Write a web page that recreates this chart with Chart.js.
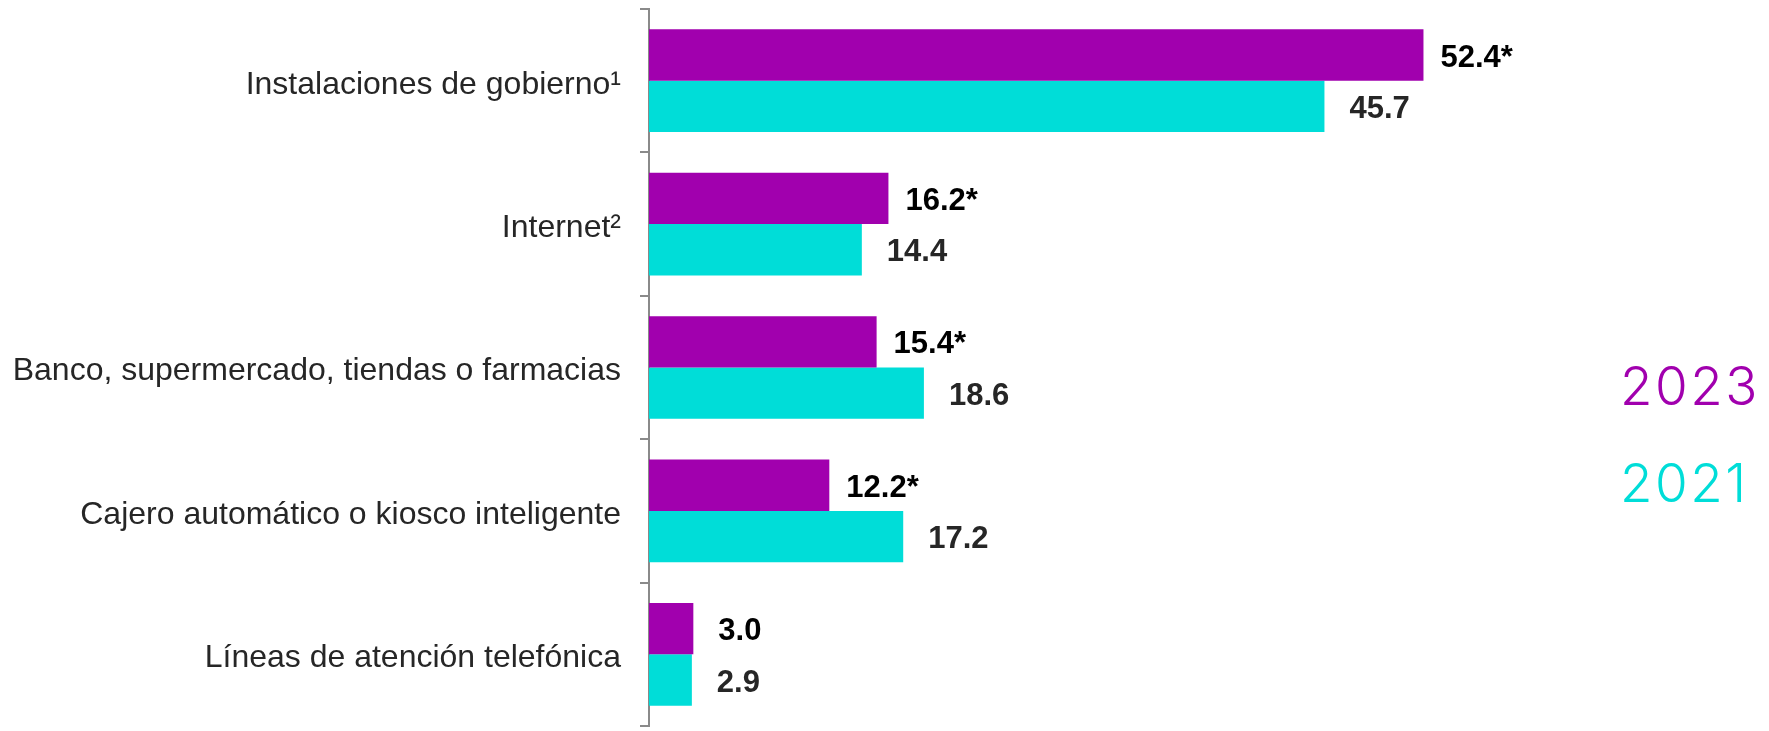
<!DOCTYPE html>
<html><head><meta charset="utf-8">
<script src="https://cdn.jsdelivr.net/npm/chart.js@4.4.1/dist/chart.umd.min.js"></script>
<style>html,body{margin:0;padding:0;background:#fff;overflow:hidden}#wrap{width:1769px;height:731px;position:relative}</style>
</head><body><div id="wrap"><canvas id="c" width="1769" height="731"></canvas></div>
<script>
const categories = ["Instalaciones de gobierno¹", "Internet²", "Banco, supermercado, tiendas o farmacias", "Cajero automático o kiosco inteligente", "Líneas de atención telefónica"];
const seriesNames = ["2023", "2021"];
const values2023 = [52.4, 16.2, 15.4, 12.2, 3.0];
const values2021 = [45.7, 14.4, 18.6, 17.2, 2.9];
const labels2023 = ["52.4*", "16.2*", "15.4*", "12.2*", "3.0"];
const labels2021 = ["45.7", "14.4", "18.6", "17.2", "2.9"];

const PURPLE = "#A100AE";
const CYAN = "#00DDD8";
const valueLabels = [labels2023, labels2021];
const valueColors = ["#000000", "#262626"];

const valueLabelPlugin = {
  id: "valueLabels",
  afterDatasetsDraw(chart) {
    const ctx = chart.ctx;
    ctx.save();
    ctx.font = "bold 31px 'Liberation Sans', Arial, sans-serif";
    ctx.textAlign = "left";
    ctx.textBaseline = "middle";
    chart.data.datasets.forEach((ds, di) => {
      const meta = chart.getDatasetMeta(di);
      meta.data.forEach((bar, i) => {
        const txt = valueLabels[di][i];
        const off = txt.endsWith("*") ? 17 : 25;
        ctx.fillStyle = valueColors[di];
        ctx.fillText(txt, bar.x + off, bar.y + 3);
      });
    });
    ctx.restore();
  }
};

const legendPlugin = {
  id: "sideLegend",
  afterDraw(chart) {
    const ctx = chart.ctx;
    ctx.save();
    ctx.font = "300 53px Inter, Lato, 'Open Sans', sans-serif";
    try { ctx.letterSpacing = "2.5px"; } catch (e) {}
    ctx.textAlign = "left";
    ctx.textBaseline = "alphabetic";
    const cols = [PURPLE, CYAN];
    const ys = [405, 502];
    seriesNames.forEach((n, i) => {
      ctx.fillStyle = cols[i];
      ctx.fillText(n, 1620, ys[i]);
    });
    ctx.restore();
  }
};

new Chart(document.getElementById("c"), {
  type: "bar",
  data: {
    labels: categories,
    datasets: [
      { label: seriesNames[0], data: values2023, backgroundColor: PURPLE, borderWidth: 0, categoryPercentage: 0.716, barPercentage: 1.0 },
      { label: seriesNames[1], data: values2021, backgroundColor: CYAN, borderWidth: 0, categoryPercentage: 0.716, barPercentage: 1.0 }
    ]
  },
  options: {
    indexAxis: "y",
    responsive: false,
    animation: false,
    devicePixelRatio: 1,
    layout: { padding: { left: 0, right: 11.5, top: 9, bottom: 5 } },
    plugins: { legend: { display: false }, tooltip: { enabled: false } },
    scales: {
      x: { display: false, min: 0, max: 75 },
      y: {
        afterFit(scale) { scale.width = 649; scale.paddingTop = 0; scale.paddingBottom = 0; },
        grid: { display: true, drawOnChartArea: false, drawTicks: true, tickLength: 9, color: "#8a8a8a", lineWidth: 2 },
        border: { display: true, color: "#8a8a8a", width: 2 },
        ticks: { autoSkip: false, padding: 19, labelOffset: 4, color: "#262626", font: { family: "'Liberation Sans', Arial, sans-serif", size: 32 } }
      }
    }
  },
  plugins: [valueLabelPlugin, legendPlugin]
});
</script>
</body></html>
